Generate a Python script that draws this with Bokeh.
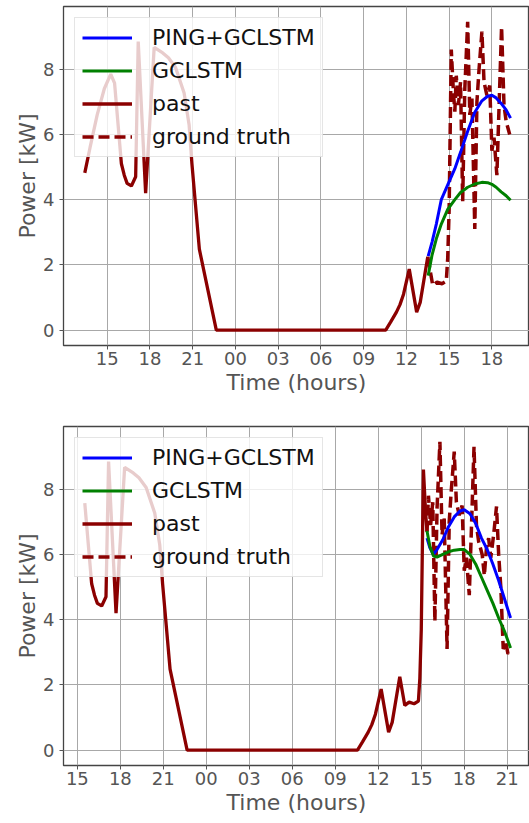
from bokeh.plotting import figure
from bokeh.models import Range1d, FixedTicker, Legend, LegendItem
from bokeh.layouts import column
from bokeh.embed import file_html
from bokeh.resources import INLINE

# ---- data: hours relative to midnight of day 2 ----
TIME_H = [-10.57, -10.2, -9.7, -9.2, -8.75, -8.48, -8.0, -7.8, -7.6, -7.3, -7.0,
          -6.82, -6.3, -5.7, -5.1, -4.7, -4.2, -3.6, -3.25, -3.05, -2.53, -1.34,
          10.55, 10.9, 11.3, 11.55, 11.8, 12.2, 12.72, 12.97, 13.5, 13.85, 14.15,
          14.5, 14.8, 14.9, 15.0, 15.15, 15.3, 15.4, 15.5, 15.65, 15.8, 15.95,
          16.1, 16.3, 16.45, 16.6, 16.8, 16.95, 17.1, 17.3, 17.45, 17.65, 17.85,
          18.0, 18.15, 18.35, 18.5, 18.68, 18.85, 19.0, 19.25, 19.4, 19.55, 19.7,
          19.85, 20.05, 20.25, 20.4, 20.55, 20.72, 20.9, 21.05, 21.2]
POWER_KW = [4.82, 5.6, 6.6, 7.4, 7.85, 7.57, 5.1, 4.75, 4.5, 4.42, 4.7,
            8.85, 4.2, 8.67, 8.5, 8.35, 8.05, 7.27, 6.3, 5.1, 2.48, 0.0,
            0.0, 0.25, 0.55, 0.78, 1.1, 1.87, 0.55, 0.85, 2.25, 1.37, 1.47,
            1.42, 1.5, 2.2, 3.7, 8.6, 7.3, 6.7, 7.8, 6.9, 7.6, 3.95,
            7.4, 9.45, 6.6, 7.1, 3.1, 7.0, 8.0, 9.15, 7.6, 7.2, 7.5,
            5.5, 5.9, 4.75, 6.8, 9.3, 6.9, 6.4, 6.0, 5.35, 6.2, 6.5,
            5.9, 6.6, 7.47, 6.0, 5.0, 3.1, 3.3, 2.95, 3.05]

# top panel window
TOP_PAST_START, TOP_SPLIT, TOP_END = -10.57, 13.5, 19.25
TOP_FC_T = [13.53, 13.8, 14.1, 14.45, 14.9, 15.4, 15.8, 16.3, 16.8, 17.3, 17.7,
            18.0, 18.3, 18.65, 19.0, 19.31]
TOP_PING = [2.27, 2.7, 3.25, 4.0, 4.45, 4.95, 5.45, 6.1, 6.68, 7.03, 7.17,
            7.2, 7.12, 6.95, 6.75, 6.5]
TOP_GCLSTM = [1.67, 2.3, 2.8, 3.25, 3.7, 4.0, 4.22, 4.38, 4.48, 4.53, 4.52,
              4.47, 4.38, 4.24, 4.12, 3.98]
TOP_TICKS = [-9, -6, -3, 0, 3, 6, 9, 12, 15, 18]
TOP_TICK_LABELS = ["15", "18", "21", "00", "03", "06", "09", "12", "15", "18"]

# bottom panel window
BOT_PAST_START, BOT_SPLIT, BOT_END = -8.48, 15.4, 21.2
BOT_FC_T = [15.4, 15.6, 15.85, 16.1, 16.5, 16.9, 17.3, 17.7, 18.0, 18.4, 18.8,
            19.2, 19.6, 20.0, 20.4, 20.8, 21.23]
BOT_PING = [6.5, 6.2, 6.0, 6.15, 6.45, 6.85, 7.15, 7.33, 7.37, 7.25, 6.95,
            6.5, 6.15, 5.7, 5.2, 4.65, 4.05]
BOT_GCLSTM = [6.72, 6.25, 5.95, 5.92, 6.0, 6.08, 6.13, 6.15, 6.15, 6.0, 5.7,
              5.3, 4.9, 4.5, 4.05, 3.65, 3.13]
BOT_TICKS = [-9, -6, -3, 0, 3, 6, 9, 12, 15, 18, 21]
BOT_TICK_LABELS = ["15", "18", "21", "00", "03", "06", "09", "12", "15", "18", "21"]

Y_TICKS = [0, 2, 4, 6, 8]

FONT = "DejaVu Sans"


def make_panel(past_start, split, end, fc_t, ping, gclstm, ticks, tick_labels,
               border_top, frame_h):
    past_t = [t for t in TIME_H if past_start <= t <= split]
    past_v = [v for t, v in zip(TIME_H, POWER_KW) if past_start <= t <= split]
    tr_t = [t for t in TIME_H if split <= t <= end]
    tr_v = [v for t, v in zip(TIME_H, POWER_KW) if split <= t <= end]

    xmin, xmax = past_start, max(end, fc_t[-1])
    span = xmax - xmin
    xlo = xmin - 0.05 * span
    xhi_full = xmax + 0.05 * span
    xhi = xlo + (xhi_full - xlo) * 0.995  # right spine cropped in reference
    ymax = max(max(past_v), max(tr_v), max(ping), max(gclstm))
    ylo, yhi = -0.05 * ymax, ymax * 1.05

    p = figure(frame_width=466, frame_height=frame_h,
               x_range=Range1d(xlo, xhi), y_range=Range1d(ylo, yhi),
               output_backend="svg", toolbar_location=None,
               min_border_left=63, min_border_right=0,
               min_border_top=border_top, min_border_bottom=0,
               background_fill_color="white", border_fill_color="white")
    p.outline_line_color = "#444444"
    p.outline_line_width = 1.3

    p.xaxis.ticker = FixedTicker(ticks=ticks)
    p.xaxis.major_label_overrides = {t: s for t, s in zip(ticks, tick_labels)}
    p.yaxis.ticker = FixedTicker(ticks=Y_TICKS)
    p.xaxis.axis_label = "Time (hours)"
    p.yaxis.axis_label = "Power [kW]"
    for ax in (p.xaxis, p.yaxis):
        ax.axis_line_color = None
        ax.major_tick_out = 4
        ax.major_tick_in = 0
        ax.minor_tick_out = 0
        ax.minor_tick_in = 0
        ax.major_tick_line_color = "#555555"
        ax.major_label_text_font = FONT
        ax.major_label_text_font_size = "18px"
        ax.major_label_text_color = "#555555"
        ax.axis_label_text_font = FONT
        ax.axis_label_text_font_size = "22px"
        ax.axis_label_text_font_style = "normal"
        ax.axis_label_text_color = "#555555"
        ax.axis_label_standoff = 2
    p.xaxis.major_label_standoff = 2
    p.yaxis.major_label_standoff = 5
    p.yaxis.axis_label_standoff = 0
    p.grid.grid_line_color = "#a8a8a8"
    p.grid.grid_line_width = 1

    r_past = p.line(past_t, past_v, line_color="#8b0000", line_width=3.3)
    r_true = p.line(tr_t, tr_v, line_color="#8b0000", line_width=3.5, line_dash="11 5")
    r_ping = p.line(fc_t, ping, line_color="#0000ff", line_width=3)
    r_gcl = p.line(fc_t, gclstm, line_color="#008000", line_width=3)

    legend = Legend(items=[
        LegendItem(label="PING+GCLSTM", renderers=[r_ping]),
        LegendItem(label="GCLSTM", renderers=[r_gcl]),
        LegendItem(label="past", renderers=[r_past]),
        LegendItem(label="ground truth", renderers=[r_true]),
    ], location="top_left")
    legend.margin = 11
    legend.padding = 7
    legend.spacing = 8
    legend.glyph_width = 50
    legend.glyph_height = 25
    legend.label_height = 25
    legend.label_standoff = 20
    legend.label_text_font = FONT
    legend.label_text_font_size = "22px"
    legend.label_text_color = "#111111"
    legend.background_fill_color = "white"
    legend.background_fill_alpha = 0.8
    legend.border_line_color = "#cccccc"
    legend.border_line_width = 1
    p.add_layout(legend)
    return p


top = make_panel(TOP_PAST_START, TOP_SPLIT, TOP_END, TOP_FC_T, TOP_PING, TOP_GCLSTM,
                 TOP_TICKS, TOP_TICK_LABELS, 6, 339)
bottom = make_panel(BOT_PAST_START, BOT_SPLIT, BOT_END, BOT_FC_T, BOT_PING, BOT_GCLSTM,
                    BOT_TICKS, BOT_TICK_LABELS, 29, 339)

layout = column(top, bottom)
open("out.html", "w").write(file_html(layout, INLINE))
